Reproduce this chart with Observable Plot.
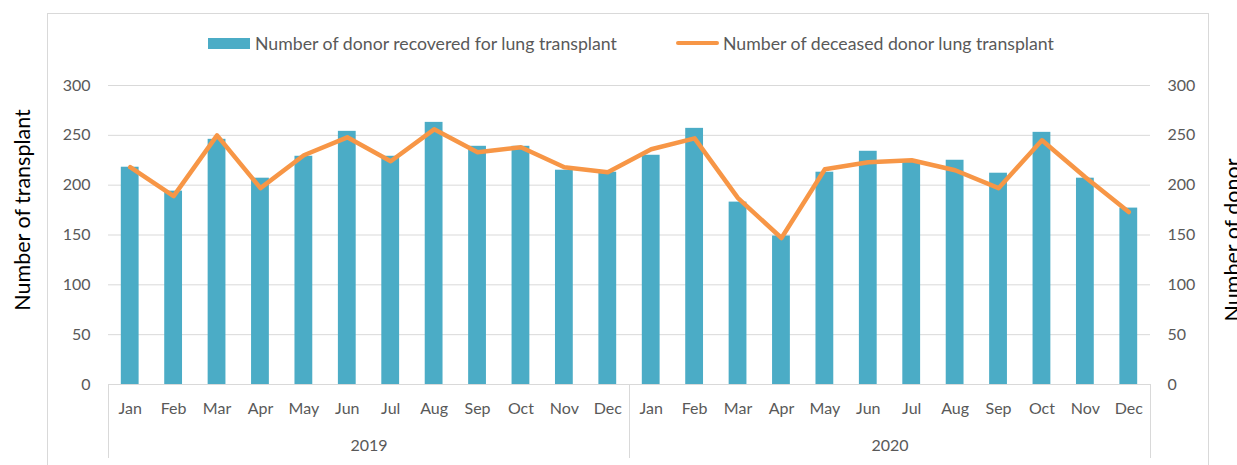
<!DOCTYPE html>
<html>
<head>
<meta charset="utf-8">
<script src="https://cdn.jsdelivr.net/npm/d3@7"></script>
<script src="https://cdn.jsdelivr.net/npm/@observablehq/plot@0.6"></script>
<style>
  html, body { margin: 0; padding: 0; background: #fff; }
  #wrap { position: relative; width: 1237px; height: 465px; overflow: hidden; font-family: Lato, sans-serif; }
  #box { position: absolute; left: 47px; top: 13px; width: 1162px; height: 480px; border: 1px solid #d9d9d9; box-sizing: border-box; }
  .leg { position: absolute; top: 31px; height: 24px; display: flex; align-items: center; color: #595959; font-size: 17.7px; white-space: nowrap; }
  .sw-bar { width: 42px; height: 11px; background: #4BACC6; margin-right: 5px; }
  .sw-line { width: 43px; height: 4px; border-radius: 2px; background: #F79646; margin-right: 4px; }
  #chart { position: absolute; left: 0; top: 0; }
</style>
</head>
<body>
<div id="wrap">
  <div id="box"></div>
  <div class="leg" style="left:208px"><div class="sw-bar"></div><span id="leg1"></span></div>
  <div class="leg" style="left:676px"><div class="sw-line"></div><span id="leg2"></span></div>
  <div id="chart"></div>
</div>
<script>
const months = ["Jan","Feb","Mar","Apr","May","Jun","Jul","Aug","Sep","Oct","Nov","Dec"];
const years = ["2019","2020"];
const recovered2019 = [218,194,246,207,229,254,229,263,239,239,215,213];
const recovered2020 = [230,257,183,149,213,234,223,225,212,253,207,177];
const transplant2019 = [218,189,250,197,230,248,224,256,233,238,218,213];
const transplant2020 = [236,247,187,147,216,223,225,215,197,245,208,173];
const yTicks = [0,50,100,150,200,250,300];
const seriesNames = ["Number of donor recovered for lung transplant", "Number of deceased donor lung transplant"];
const axisTitles = ["Number of transplant", "Number of donor"];

document.getElementById("leg1").textContent = seriesNames[0];
document.getElementById("leg2").textContent = seriesNames[1];

const recovered = [recovered2019, recovered2020];
const transplant = [transplant2019, transplant2020];
const rows = [];
years.forEach((yr, yi) => months.forEach((m, mi) => rows.push({
  key: yr + " " + m, year: yr, month: m,
  recovered: recovered[yi][mi], transplant: transplant[yi][mi]
})));
const keys = rows.map(d => d.key);

const W = 1237, H = 465, ML = 108, MR = 87, MT = 85, MB = 81;
const step = (W - ML - MR) / keys.length;

const chart = Plot.plot({
  width: W, height: H,
  marginLeft: ML, marginRight: MR, marginTop: MT, marginBottom: MB,
  style: { fontFamily: "Lato, sans-serif", fontSize: "16px", color: "#595959", background: "transparent", overflow: "visible" },
  x: { domain: keys, paddingInner: 0.59, paddingOuter: 0.295, round: false },
  y: { domain: [0, 300], ticks: yTicks },
  marks: [
    Plot.gridY({ ticks: yTicks, stroke: "#d9d9d9", strokeOpacity: 1, strokeWidth: 1 }),
    Plot.barY(rows, { x: "key", y: "recovered", fill: "#4BACC6" }),
    Plot.line(rows, { x: "key", y: "transplant", stroke: "#F79646", strokeWidth: 4.5, strokeLinejoin: "round", strokeLinecap: "round" }),
    Plot.axisY({ anchor: "left", ticks: yTicks, tickSize: 0, tickPadding: 18, label: null, fill: "#595959" }),
    Plot.axisY({ anchor: "right", ticks: yTicks, tickSize: 0, tickPadding: 17, label: null, fill: "#595959" }),
    Plot.axisX({ tickSize: 0, tickPadding: 18, tickFormat: d => d.split(" ")[1], label: null, fill: "#595959" }),
    Plot.ruleY([0], { stroke: "#d9d9d9" }),
    Plot.ruleX([keys[0], keys[12]], { stroke: "#d9d9d9", dx: -step / 2, insetTop: H - MT - MB, insetBottom: -74 }),
    Plot.ruleX([keys[23]], { stroke: "#d9d9d9", dx: step / 2, insetTop: H - MT - MB, insetBottom: -74 }),
    Plot.text(years, { x: d => d + " Jun", text: d => d, frameAnchor: "bottom", dx: step / 2, dy: 66, fill: "#595959" }),
    Plot.text([axisTitles[0]], { text: d => d, frameAnchor: "left", textAnchor: "middle", rotate: -90, dx: -85, dy: -25, fontSize: 21.5, fill: "#000" }),
    Plot.text([axisTitles[1]], { text: d => d, frameAnchor: "right", textAnchor: "middle", rotate: -90, dx: 83, dy: 5, fontSize: 21.5, fill: "#000" })
  ]
});
document.getElementById("chart").appendChild(chart);
</script>
</body>
</html>
